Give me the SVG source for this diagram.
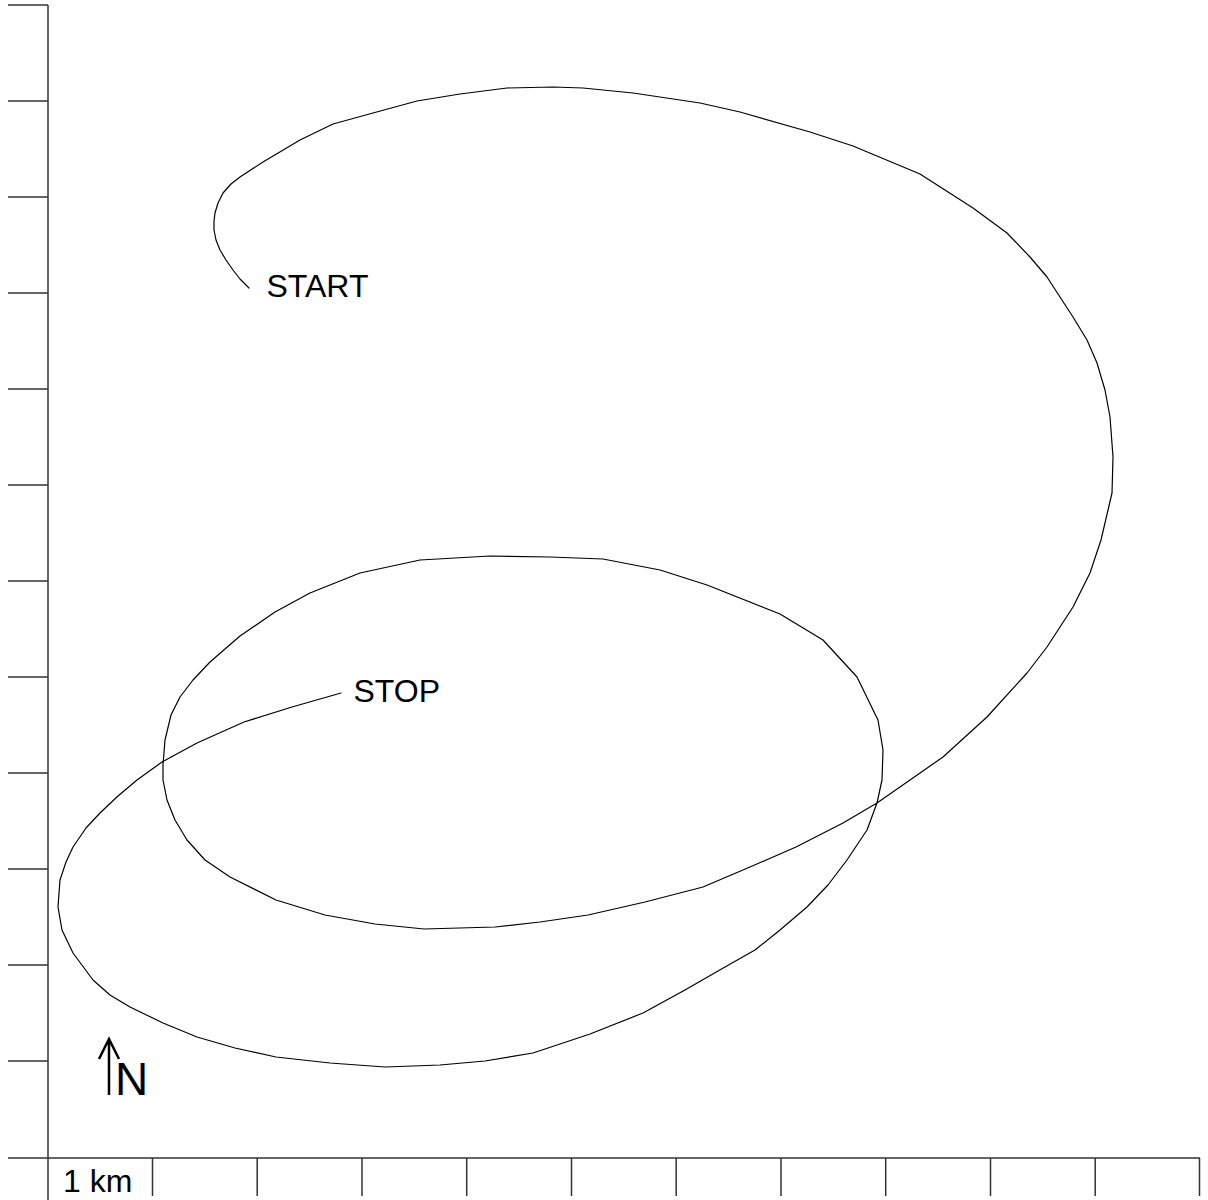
<svg xmlns="http://www.w3.org/2000/svg" width="1208" height="1200" viewBox="0 0 1208 1200">
<style>
.axis{stroke:#333;stroke-width:1.5;fill:none}
.track{stroke:#000;stroke-width:1.2;fill:none;stroke-linejoin:round;stroke-linecap:round}
.lbl{font-family:"Liberation Sans",Arial,sans-serif;font-size:32px;fill:#000}
</style>
<rect width="1208" height="1200" fill="#fff"/>
<g id="axes" class="axis">
<line x1="48" y1="5" x2="48" y2="1200"/>
<path d="M8 5H48M8 101H48M8 197H48M8 293H48M8 389H48M8 485H48M8 581H48M8 677H48M8 773H48M8 869H48M8 965H48M8 1061H48"/>
<line x1="8" y1="1158" x2="1200" y2="1158"/>
<path d="M152.5 1158V1196M257.2 1158V1196M362 1158V1196M466.7 1158V1196M571.5 1158V1196M676.2 1158V1196M781 1158V1196M885.7 1158V1196M990.5 1158V1196M1095.2 1158V1196M1199.5 1158V1196"/>
</g>
<g id="scale-label"><text class="lbl" x="63" y="1192">1 km</text></g>
<g id="north">
<path d="M109 1095V1039M99 1059L109 1039L119 1059" stroke="#000" stroke-width="2.5" fill="none"/>
<text x="115" y="1095" font-family="'Liberation Sans',Arial,sans-serif" font-size="46" fill="#000">N</text>
</g>
<g id="connectors">
<polyline class="track" points="249,288 240,279 233,270 226,260 220,250 216,240 214,230 214,221 215,213 218,203 223,193 231,184 240,177 263,162 300,140 333,124 373,113 417,101 460,94 507,88 553,87 583,88 633,93 700,103 740,112 810,132 853,146 920,174 973,208 1007,233 1030,257 1047,277 1073,317 1087,340 1097,363 1105,390 1110,417 1113,457 1112,493 1101,540 1090,573 1073,607 1047,647 1027,673 987,717 943,757 877,803 843,823 796,847 750,867 703,887 645,902 588,915 540,922 495,927 424,929 375,924 325,915 276,900 230,877 205,860 187,840 175,820 167,800 163,780 163,765 165,740 171,715 180,697 193,680 210,662 240,636 275,612 310,593 360,573 420,560 490,556 550,557 603,559 660,570 707,585 780,614 823,640 857,677 878,720 883,750 882,780 877,803 867,830 847,860 828,885 807,907 780,930 755,950 725,967 685,990 643,1013 590,1034 533,1053 485,1061 440,1065 385,1067 330,1063 276,1057 235,1048 197,1037 163,1023 130,1007 110,995 93,980 73,953 62,930 58,907 60,880 66,862 73,847 86,828 100,813 118,796 137,780 162,762 197,743 244,722 292,707 341,693"/>
</g>
<g id="start"><text class="lbl" x="266.5" y="297">START</text></g>
<g id="stop"><text class="lbl" x="353.5" y="702">STOP</text></g>
</svg>
